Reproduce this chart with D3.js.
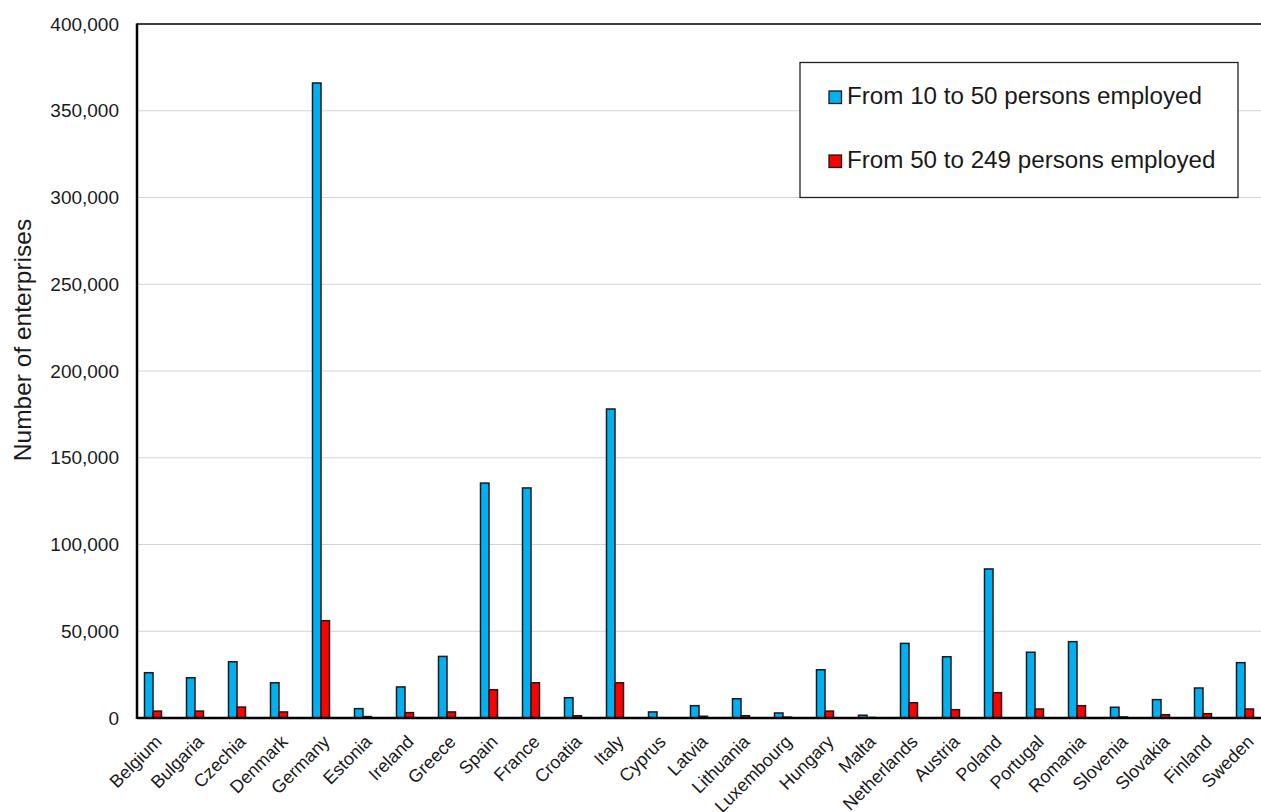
<!DOCTYPE html>
<html>
<head>
<meta charset="utf-8">
<script src="https://cdn.jsdelivr.net/npm/d3@7"></script>
<style>
  html, body { margin: 0; padding: 0; background: #fff; }
  svg { display: block; font-family: "Liberation Sans", Arial, sans-serif; }
</style>
</head>
<body>
<svg id="chart" width="1261" height="812"></svg>
<script>
// Countries along the category axis
const countries = ["Belgium", "Bulgaria", "Czechia", "Denmark", "Germany", "Estonia", "Ireland",
  "Greece", "Spain", "France", "Croatia", "Italy", "Cyprus", "Latvia", "Lithuania", "Luxembourg",
  "Hungary", "Malta", "Netherlands", "Austria", "Poland", "Portugal", "Romania", "Slovenia",
  "Slovakia", "Finland", "Sweden"];

// Number of enterprises by size class
const small = [26100, 23200, 32400, 20300, 366000, 5400, 17900, 35500, 135400, 132600, 11700,
  178100, 3500, 7100, 11100, 2900, 27800, 1600, 43000, 35300, 85900, 37900, 44000, 6200,
  10600, 17300, 31900];
const medium = [4000, 4000, 6300, 3500, 56100, 800, 3100, 3500, 16300, 20300, 1300,
  20300, 0, 1000, 1300, 500, 4000, 300, 8800, 4800, 14600, 5200, 7100, 600,
  1900, 2500, 5200];

const seriesNames = ["From 10 to 50 persons employed", "From 50 to 249 persons employed"];
const seriesColors = ["#00B0F0", "#FF0000"];
const yTicks = [0, 50000, 100000, 150000, 200000, 250000, 300000, 350000, 400000];

const svg = d3.select("#chart");
const plotLeft = 137, plotTop = 24, plotBottom = 718;
const step = 42;

const x0 = d3.scaleBand()
  .domain(countries)
  .range([plotLeft, plotLeft + step * countries.length])
  .paddingInner(0).paddingOuter(0);

const x1 = d3.scaleBand()
  .domain(seriesNames)
  .range([0, step])
  .paddingInner(0)
  .paddingOuter(1.47)
  .align(0.3);

const y = d3.scaleLinear().domain([0, 400000]).range([plotBottom, plotTop]);

// Horizontal gridlines
svg.append("g")
  .selectAll("line")
  .data(yTicks.filter(d => d > 0 && d < 400000))
  .join("line")
  .attr("x1", plotLeft).attr("x2", 1261)
  .attr("y1", d => y(d)).attr("y2", d => y(d))
  .attr("stroke", "#d4d4d4").attr("stroke-width", 1);

// Top border of the plot area
svg.append("line")
  .attr("x1", plotLeft).attr("x2", 1261)
  .attr("y1", y(400000)).attr("y2", y(400000))
  .attr("stroke", "#000").attr("stroke-width", 1.5);

// Bars
const rows = countries.map((c, i) => ({ country: c, values: [small[i], medium[i]] }));
const groups = svg.append("g")
  .selectAll("g")
  .data(rows)
  .join("g")
  .attr("transform", d => `translate(${x0(d.country)},0)`);

groups.selectAll("rect")
  .data(d => d.values.map((v, k) => ({ key: seriesNames[k], value: v, color: seriesColors[k] })))
  .join("rect")
  .filter(d => d.value > 0)
  .attr("x", d => x1(d.key))
  .attr("width", x1.bandwidth())
  .attr("y", d => y(d.value))
  .attr("height", d => y(0) - y(d.value))
  .attr("fill", d => d.color)
  .attr("stroke", "#1a1a1a")
  .attr("stroke-width", 1.5);

// Y axis
const yAxis = d3.axisLeft(y)
  .tickValues(yTicks)
  .tickFormat(d3.format(","))
  .tickSize(0)
  .tickPadding(18);
const yg = svg.append("g").attr("transform", `translate(${plotLeft},0)`).call(yAxis);
yg.select(".domain").remove();
yg.selectAll("text")
  .attr("font-size", 19)
  .attr("fill", "#1a1a1a")
  .attr("font-family", "Liberation Sans, Arial, sans-serif");

// Axis lines
svg.append("line")
  .attr("x1", plotLeft).attr("x2", plotLeft)
  .attr("y1", plotTop - 0.5).attr("y2", plotBottom + 1)
  .attr("stroke", "#000").attr("stroke-width", 2.5);
svg.append("line")
  .attr("x1", plotLeft).attr("x2", 1261)
  .attr("y1", plotBottom).attr("y2", plotBottom)
  .attr("stroke", "#000").attr("stroke-width", 2.5);

// Category labels
svg.append("g")
  .selectAll("text")
  .data(countries)
  .join("text")
  .attr("transform", d => `translate(${x0(d) + x0.bandwidth() / 2 - 4},${plotBottom + 16}) rotate(-45)`)
  .attr("text-anchor", "end")
  .attr("dy", "0.7em")
  .attr("font-size", 18)
  .attr("fill", "#1a1a1a")
  .text(d => d);

// Y axis title
svg.append("text")
  .attr("transform", `translate(31,340) rotate(-90)`)
  .attr("text-anchor", "middle")
  .attr("font-size", 24.5)
  .attr("fill", "#1a1a1a")
  .text("Number of enterprises");

// Legend
const legend = svg.append("g");
legend.append("rect")
  .attr("x", 800).attr("y", 62.5)
  .attr("width", 438).attr("height", 135)
  .attr("fill", "#fff")
  .attr("stroke", "#222").attr("stroke-width", 1.3);

const items = legend.selectAll("g.item")
  .data(seriesNames)
  .join("g")
  .attr("class", "item")
  .attr("transform", (d, i) => `translate(829,${91 + i * 64})`);
items.append("rect")
  .attr("width", 12.5).attr("height", 12.5)
  .attr("fill", (d, i) => seriesColors[i])
  .attr("stroke", "#1a1a1a").attr("stroke-width", 1.3);
items.append("text")
  .attr("x", 18).attr("y", 13)
  .attr("font-size", 24.2)
  .attr("fill", "#1a1a1a")
  .text(d => d);
</script>
</body>
</html>
